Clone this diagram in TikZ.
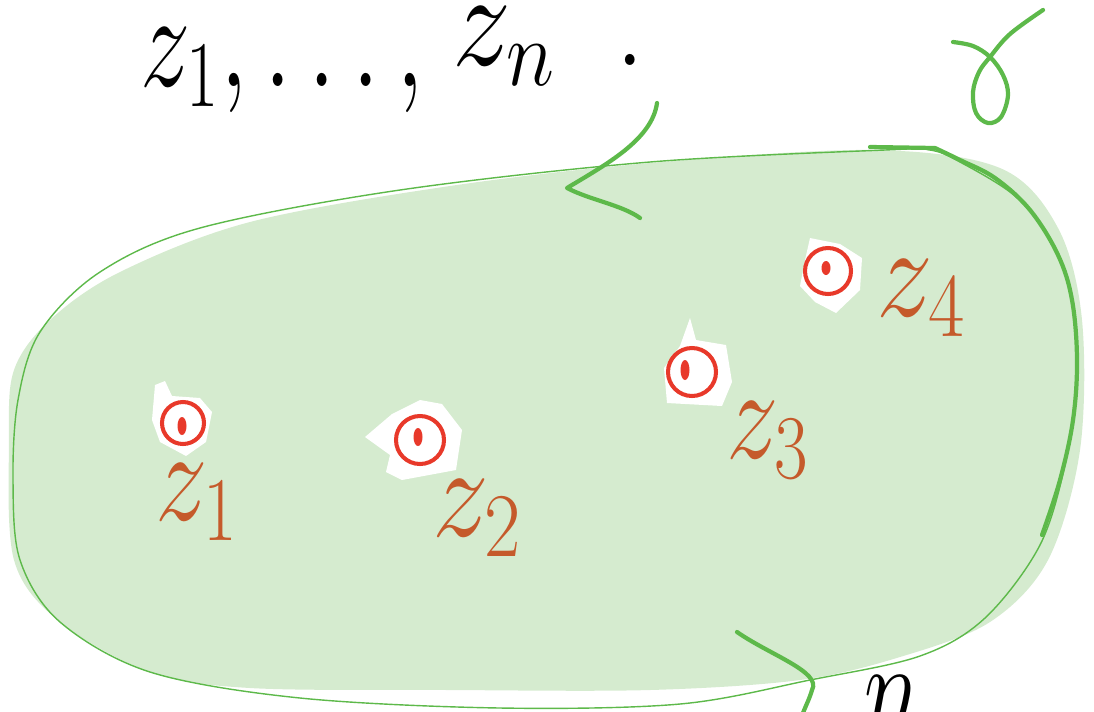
\documentclass[tikz,border=0pt]{standalone}
\usepackage{graphicx}
\usepackage{amsmath}
\definecolor{blobgreen}{HTML}{D5EBCF}
\definecolor{linegreen}{HTML}{5DB94A}
\definecolor{ptred}{HTML}{E8392A}
\definecolor{labbrown}{HTML}{C55A2B}
\newcommand{\bigtxt}[3]{\scalebox{#1}[#2]{\Huge #3}}
\tikzset{
  thinline/.style={draw=linegreen, line width=0.8pt, line join=round},
  thickline/.style={draw=linegreen, line width=2.4pt, line cap=round, line join=round},
  ptcircle/.style={circle, draw=ptred, line width=2.3pt, inner sep=0pt},
  ptdot/.style={fill=ptred},
  hole/.style={fill=white},
  lab/.style={text=labbrown, inner sep=0pt},
  blacklab/.style={text=black, inner sep=0pt}
}
\begin{document}
\begin{tikzpicture}[x=0.02cm, y=-0.02cm]
\useasboundingbox (0,0) rectangle (1094,711);
% green fill
\fill[blobgreen] plot[smooth cycle, tension=0.55] coordinates {
 (870,150) (1000,168) (1058,228) (1082,320) (1080,450) (1048,560) (990,622)
 (900,657) (800,680) (650,690) (450,690) (250,688) (150,672) (60,622)
 (14,560) (9,440) (14,370) (50,320) (120,272) (250,222) (450,186) (650,163)};
% white holes around points
\fill[hole] (155,385) -- (165,381) -- (172,396) -- (200,398) -- (212,412) -- (206,442) -- (186,456) -- (160,442) -- (152,420) -- cycle;
\fill[hole] (365,437) -- (392,414) -- (420,400) -- (442,404) -- (462,430) -- (456,470) -- (402,480) -- (386,472) -- (390,455) -- cycle;
\fill[hole] (690,318) -- (696,340) -- (726,345) -- (732,382) -- (722,406) -- (667,403) -- (664,368) -- (680,346) -- cycle;
\fill[hole] (810,238) -- (840,244) -- (862,258) -- (860,290) -- (836,313) -- (815,302) -- (800,286) -- (805,260) -- cycle;
% thin outline
\draw[thinline] plot[smooth cycle, tension=0.55] coordinates {
 (885,150) (650,162) (400,190) (200,228) (100,272) (40,332) (18,400) (13,480)
 (20,560) (60,622) (150,672) (300,698) (500,708) (680,704) (810,680) (920,656)
 (985,618) (1040,545) (1066,460) (1076,380) (1072,300) (1050,240) (1015,196)
 (960,162) (930,150)};
% thick right boundary
\draw[thickline] (870,147) -- (935,148) plot[smooth, tension=0.6] coordinates {
 (935,148) (960,160) (995,178) (1030,210) (1058,255) (1072,300) (1077,360)
 (1073,420) (1060,480) (1042,535)};
% arrows
\draw[thickline] (657,103) .. controls (652,140) and (605,165) .. (567,188)
  .. controls (590,200) and (622,205) .. (640,218);
\draw[thickline] (737,632) .. controls (770,655) and (822,672) .. (812,690)
  .. controls (809,700) and (806,705) .. (803,713);
% gamma
\draw[thickline] plot[smooth, tension=0.6] coordinates {
 (953,42) (973,46) (990,57) (1003,75) (1008,95) (1001,117) (988,123)
 (976,113) (973,92) (979,72) (990,57) (1010,34) (1043,10)};
% points
\node[ptcircle, minimum size=42*0.02cm] (p1) at (183,423) {};
\node[ptcircle, minimum size=48*0.02cm] (p2) at (420,440) {};
\node[ptcircle, minimum size=48*0.02cm] (p3) at (692,372) {};
\node[ptcircle, minimum size=46*0.02cm] (p4) at (828,271) {};
\fill[ptdot] (182,426) ellipse [x radius=4.5, y radius=9];
\fill[ptdot] (418,437) ellipse [x radius=4.5, y radius=9];
\fill[ptdot] (685,370) ellipse [x radius=4.5, y radius=10];
\fill[ptdot] (826,268) ellipse [x radius=4.5, y radius=7];
% labels
\node[lab] (l1) at (197,502) {\bigtxt{2.4}{3.0}{$z_{\scriptscriptstyle 1}$}};
\node[lab] (l2) at (478,518) {\bigtxt{2.6}{3.0}{$z_{\scriptscriptstyle 2}$}};
\node[lab] (l3) at (768,440) {\bigtxt{2.4}{3.0}{$z_{\scriptscriptstyle 3}$}};
\node[lab] (l4) at (922,298) {\bigtxt{2.6}{3.0}{$z_{\scriptscriptstyle 4}$}};
\node[blacklab, anchor=west] (t1) at (140,70) {\bigtxt{2.3}{3.1}{$z_{\scriptscriptstyle 1},\ldots,$}};
\node[blacklab, anchor=west] (t2) at (452,46) {\bigtxt{2.7}{3.1}{$z_{\scriptscriptstyle n}$\hspace{0.5em}.}};
\node[blacklab] (nn) at (893,704) {\bigtxt{2.2}{3.0}{$n$}};
\end{tikzpicture}
\end{document}
